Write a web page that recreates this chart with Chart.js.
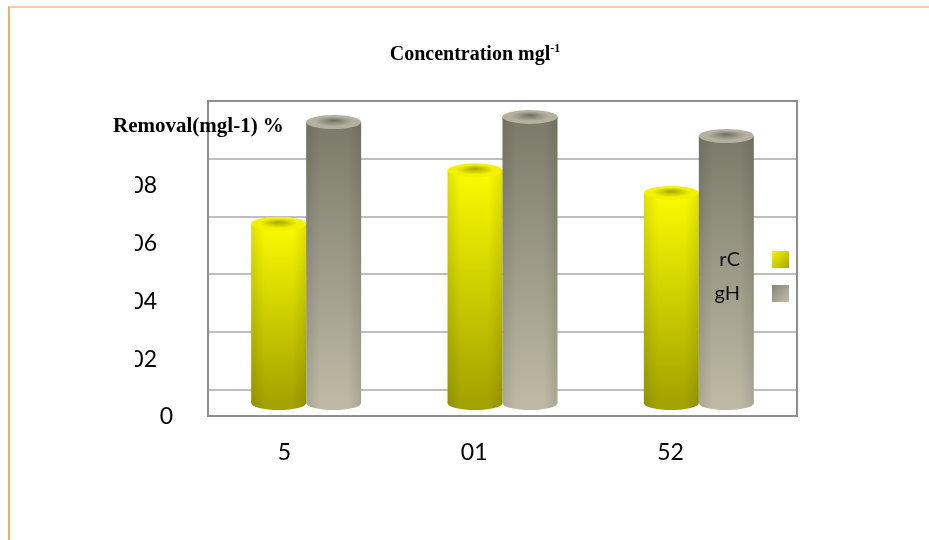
<!DOCTYPE html>
<html>
<head>
<meta charset="utf-8">
<script src="https://cdn.jsdelivr.net/npm/chart.js@4.4.1/dist/chart.umd.min.js"></script>
<style>
  html, body { margin: 0; padding: 0; background: #fff; }
  #wrap { position: relative; width: 929px; height: 540px; overflow: hidden; }
  #frame {
    position: absolute; left: 8px; top: 6px; right: -4px; bottom: -4px;
    border-left: 2px solid #f6ab6e; border-top: 2px solid #f9cba8;
  }
  canvas { position: absolute; left: 0; top: 0; }
</style>
</head>
<body>
<div id="wrap">
  <div id="frame"></div>
  <canvas id="chart" width="929" height="540"></canvas>
</div>
<script>
  // Removal per concentration, two metals.
  const CATEGORIES = ["5", "01", "52"];
  const SERIES_NAMES = ["rC", "gH"];
  const CR_VALUES = [62, 80.5, 72.7];
  const HG_VALUES = [97.2, 99, 92.4];
  const Y_TICKS = [0, 20, 40, 60, 80];
  const Y_TICK_LABELS = ["0", "02", "04", "06", "08"];
  const TITLE = "Concentration mgl";
  const TITLE_SUP = "-1";
  const AXIS_TITLE = "Removal(mgl-1) %";

  // cylinder shading per series
  const SHADES = [
    { top: "#fbfb00", bottom: "#a2a200", capRim: "#f2f200", capCore: "#a6a600", swatchA: "#f4f400", swatchB: "#a9a900" },
    { top: "#7b7a6a", bottom: "#bdb9a5", capRim: "#b4b1a1", capCore: "#6e6e60", swatchA: "#85847a", swatchB: "#c2bea9" },
  ];
  const DEPTH = 13;      // back wall sits this far above the bar floor
  const CAP_RY = 7;      // half-height of the cylinder ellipses
  const NUM_FONT = "Lato, 'Open Sans', sans-serif";
  const SERIF = "'Liberation Serif', 'DejaVu Serif', serif";

  const wallPlugin = {
    id: "wall",
    beforeDatasetsDraw(chart) {
      const { ctx, chartArea: a, scales: { y } } = chart;
      const top = y.getPixelForValue(100) - DEPTH;
      const bottom = y.getPixelForValue(0) + DEPTH;
      ctx.save();
      ctx.strokeStyle = "#a8a8a8";
      ctx.lineWidth = 1.5;
      Y_TICKS.forEach((v) => {
        const py = Math.round(y.getPixelForValue(v) - DEPTH);
        ctx.beginPath();
        ctx.moveTo(a.left, py);
        ctx.lineTo(a.right, py);
        ctx.stroke();
      });
      ctx.strokeStyle = "#8e8e8e";
      ctx.lineWidth = 2;
      ctx.strokeRect(a.left, Math.round(top), a.right - a.left, Math.round(bottom - top));
      ctx.restore();
    },
  };

  function ellipsePath(ctx, cx, cy, rx, ry) {
    ctx.beginPath();
    ctx.ellipse(cx, cy, rx, ry, 0, 0, Math.PI * 2);
  }

  function drawCylinder(ctx, bar, shade) {
    const { x, y, base, width } = bar.getProps(["x", "y", "base", "width"], true);
    const rx = width / 2;
    const left = x - rx;

    const side = ctx.createLinearGradient(left, 0, left + width, 0);
    side.addColorStop(0, "rgba(0,0,0,0.10)");
    side.addColorStop(0.25, "rgba(0,0,0,0)");
    side.addColorStop(0.75, "rgba(0,0,0,0)");
    side.addColorStop(1, "rgba(0,0,0,0.10)");

    // floor ellipse (only its lower half shows)
    ellipsePath(ctx, x, base, rx, CAP_RY);
    ctx.fillStyle = shade.bottom;
    ctx.fill();
    ctx.fillStyle = side;
    ctx.fill();

    // body
    const body = ctx.createLinearGradient(0, y, 0, base);
    body.addColorStop(0, shade.top);
    body.addColorStop(1, shade.bottom);
    ctx.fillStyle = body;
    ctx.fillRect(left, y, width, base - y);
    ctx.fillStyle = side;
    ctx.fillRect(left, y, width, base - y);

    // top cap, dished towards the middle
    ctx.save();
    ctx.translate(x, y);
    ctx.scale(1, CAP_RY / rx);
    const cap = ctx.createRadialGradient(0, -rx * 0.25, 0, 0, 0, rx);
    cap.addColorStop(0, shade.capCore);
    cap.addColorStop(0.7, shade.capRim);
    cap.addColorStop(1, shade.capRim);
    ctx.beginPath();
    ctx.arc(0, 0, rx, 0, Math.PI * 2);
    ctx.fillStyle = cap;
    ctx.fill();
    ctx.restore();
  }

  const cylinderPlugin = {
    id: "cylinders",
    afterDatasetsDraw(chart) {
      const ctx = chart.ctx;
      chart.data.datasets.forEach((ds, i) => {
        chart.getDatasetMeta(i).data.forEach((bar) => drawCylinder(ctx, bar, SHADES[i]));
      });
    },
  };

  const textPlugin = {
    id: "texts",
    afterDraw(chart) {
      const { ctx, scales: { x, y } } = chart;
      ctx.save();
      ctx.fillStyle = "#000";

      // title with superscript
      ctx.font = "bold 20px " + SERIF;
      ctx.textBaseline = "alphabetic";
      const mainW = ctx.measureText(TITLE).width;
      ctx.font = "bold 12px " + SERIF;
      const supW = ctx.measureText(TITLE_SUP).width;
      const tx = 475 - (mainW + supW) / 2;
      ctx.font = "bold 20px " + SERIF;
      ctx.textAlign = "left";
      ctx.fillText(TITLE, tx, 60);
      ctx.font = "bold 12px " + SERIF;
      ctx.fillText(TITLE_SUP, tx + mainW, 52);

      // axis title
      ctx.font = "bold 21px " + SERIF;
      ctx.fillText(AXIS_TITLE, 113, 132);

      // y tick labels; the leading digit is cut by the left margin
      ctx.font = "23px " + NUM_FONT;
      ctx.textBaseline = "middle";
      ctx.textAlign = "right";
      ctx.save();
      ctx.beginPath();
      ctx.rect(135, 0, 200, 540);
      ctx.clip();
      Y_TICKS.forEach((v, i) => {
        const label = Y_TICK_LABELS[i];
        const right = label.length === 1 ? 173 : 157;
        ctx.fillText(label, right, y.getPixelForValue(v) + 14);
      });
      ctx.restore();

      // category labels
      CATEGORIES.forEach((c, i) => {
        ctx.fillText(c, x.getPixelForValue(i) - 15, 453);
      });

      // legend: name then swatch
      ctx.font = "20px " + NUM_FONT;
      SERIES_NAMES.forEach((name, i) => {
        const cy = 259.5 + i * 34;
        ctx.fillStyle = "#111";
        ctx.textAlign = "right";
        ctx.fillText(name, 740, cy);
        const g = ctx.createLinearGradient(772, cy - 8.5, 789, cy + 8.5);
        g.addColorStop(0, SHADES[i].swatchA);
        g.addColorStop(1, SHADES[i].swatchB);
        ctx.fillStyle = g;
        ctx.fillRect(772, cy - 8.5, 17, 17);
      });
      ctx.restore();
    },
  };

  new Chart(document.getElementById("chart"), {
    type: "bar",
    data: {
      labels: CATEGORIES,
      datasets: [
        { label: SERIES_NAMES[0], data: CR_VALUES, backgroundColor: "rgba(0,0,0,0)", borderWidth: 0, categoryPercentage: 0.56, barPercentage: 1 },
        { label: SERIES_NAMES[1], data: HG_VALUES, backgroundColor: "rgba(0,0,0,0)", borderWidth: 0, categoryPercentage: 0.56, barPercentage: 1 },
      ],
    },
    options: {
      responsive: false,
      animation: false,
      layout: { padding: { left: 208, right: 132, top: 114, bottom: 137 } },
      plugins: { legend: { display: false }, tooltip: { enabled: false } },
      scales: {
        x: { display: false },
        y: { display: false, min: 0, max: 100 },
      },
    },
    plugins: [wallPlugin, cylinderPlugin, textPlugin],
  });
</script>
</body>
</html>
